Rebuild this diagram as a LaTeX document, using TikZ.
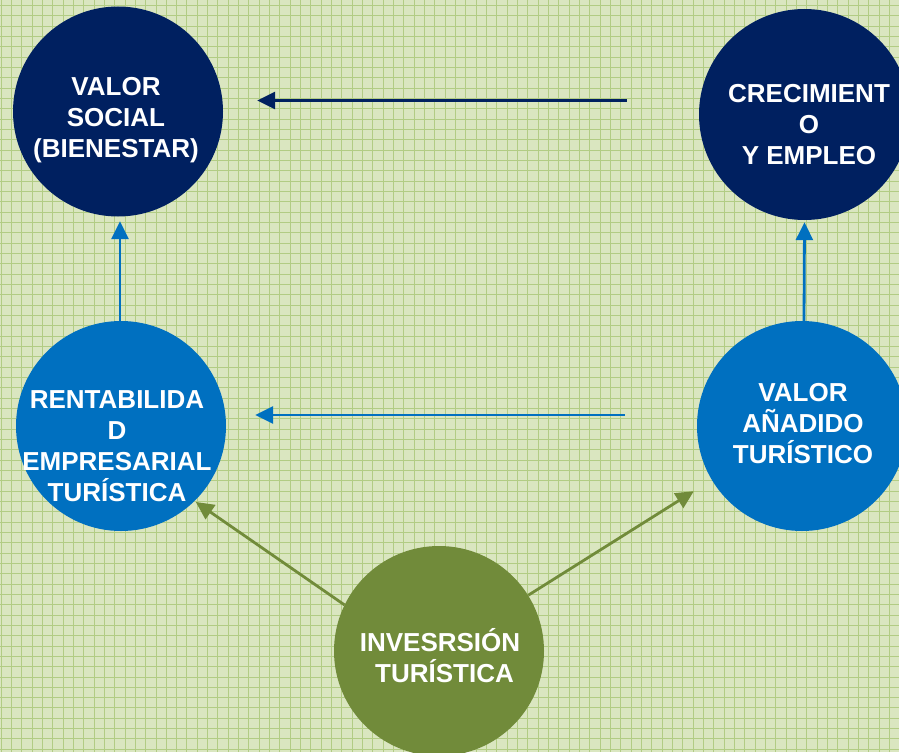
\documentclass[tikz,border=0pt]{standalone}
\usepackage{fontspec}
\setmainfont{Liberation Sans}
\usetikzlibrary{arrows.meta}
\definecolor{navy}{RGB}{0,32,96}
\definecolor{midblue}{RGB}{0,112,192}
\definecolor{olive}{RGB}{113,139,58}
\definecolor{bggreen}{RGB}{218,230,192}
\definecolor{gridgreen}{RGB}{178,204,132}
\tikzset{
  bubble/.style={circle,inner sep=0pt,minimum size=210pt},
  lbl/.style={text=white,align=center,font=\fontsize{26}{31}\selectfont\bfseries},
  arr/.style={line width=2.8pt,-{Triangle[length=18pt,width=17pt]}}
}
\begin{document}
\begin{tikzpicture}[x=1pt,y=-1pt]
\useasboundingbox (0,0) rectangle (899,752);
\clip (0,0) rectangle (899,752);
\fill[bggreen] (0,0) rectangle (899,752);
\foreach \i in {0,...,87} {
  \draw[gridgreen,line width=0.9pt] (\i*10.33+1,0) -- (\i*10.33+1,752);
}
\foreach \j in {0,...,73} {
  \draw[gridgreen,line width=0.9pt] (0,\j*10.33+5.5) -- (899,\j*10.33+5.5);
}
% circles
\node[bubble,fill=navy] (vs) at (118,111.5) {};
\node[bubble,fill=navy,minimum size=211pt] (crec) at (804.5,114.5) {};
\node[bubble,fill=midblue] (rent) at (121,426) {};
\node[bubble,fill=midblue] (vat) at (802,426) {};
\node[bubble,fill=olive] (inv) at (439,651) {};
% labels
\node[lbl] (vst) at (116,120) {VALOR\\SOCIAL\\(BIENESTAR)};
\node[lbl] (crect) at (809,125) {CRECIMIENT\\O\\Y EMPLEO};
\node[lbl] (rentt) at (117,446) {RENTABILIDA\\D\\EMPRESARIAL\\TURÍSTICA};
\node[lbl] (vatt) at (803,424) {VALOR\\AÑADIDO\\TURÍSTICO};
\node[lbl] (invt) at (440,656) {INVESRSIÓN\\\hspace*{9pt}TURÍSTICA};
% connectors
\draw[arr,navy] ([shift={(-72,-14)}]crec.west) -- ([shift={(34,-11)}]vs.east);
\draw[arr,midblue] ([shift={(-72,-11)}]vat.west) -- ([shift={(29,-11)}]rent.east);
\draw[arr,midblue] ([shift={(-1,0)}]rent.north) -- ([shift={(2,4.5)}]vs.south);
\draw[arr,midblue] ([shift={(2,0)}]vat.north) -- ([shift={(0,2)}]crec.south);
\draw[arr,olive] (inv.154) -- ([shift={(3,-1)}]rent.-47);
\draw[arr,olive] (inv.32) -- ([shift={(-18,11)}]vat.211.7);
\end{tikzpicture}
\end{document}
